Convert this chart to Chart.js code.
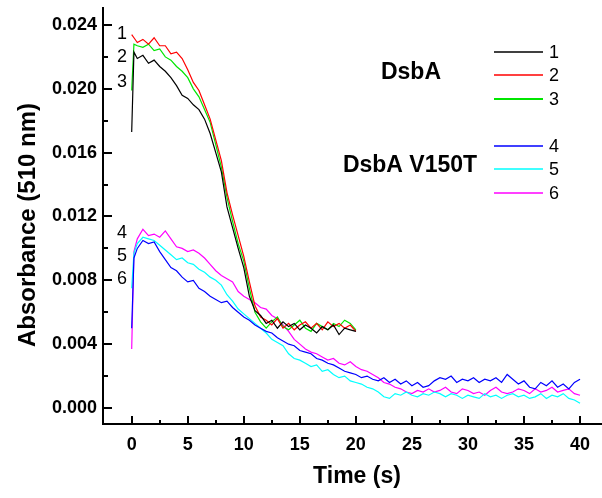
<!DOCTYPE html>
<html lang="en">
<head>
<meta charset="utf-8">
<title>DsbA absorbance at 510 nm</title>
<style>
  body { margin: 0; background: #fff; }
  #wrap { width: 602px; height: 498px; }
</style>
</head>
<body>
<div id="wrap"><canvas id="myChart"></canvas></div>

<script src="https://cdn.jsdelivr.net/npm/chart.js"></script>
<script>
// time points (s)
const timeDsbA = [0,0.2,0.5,1,1.5,2,2.5,3,3.5,4,4.5,5,5.5,6,6.5,7,7.5,8,8.5,9,9.5,10,
  10.5,11,11.5,12,12.5,13,13.5,14,14.5,15,15.5,16,16.5,17,17.5,18,18.5,19,19.5,20];
const timeV150T = [0,0.2,0.5,1,1.5,2,2.5,3,3.5,4,4.5,5,5.5,6,6.5,7,7.5,8,8.5,9,9.5,10,
  10.5,11,11.5,12,12.5,13,13.5,14,14.5,15,15.5,16,16.5,17,17.5,18,18.5,19,19.5,20,
  20.5,21,21.5,22,22.5,23,23.5,24,24.5,25,25.5,26,26.5,27,27.5,28,28.5,29,29.5,30,
  30.5,31,31.5,32,32.5,33,33.5,34,34.5,35,35.5,36,36.5,37,37.5,38,38.5,39,39.5,40];

// DsbA traces (1-3)
const curve1 = [0.0173,0.0223,0.0219,0.0221,0.0216,0.0218,0.0214,0.0211,0.0207,0.0202,0.0196,0.0194,
  0.0190,0.0187,0.0181,0.0172,0.0160,0.0148,0.0126,0.0113,0.0100,0.0088,0.0070,0.0061,0.0058,0.0053,
  0.0055,0.0050,0.0054,0.0051,0.0053,0.0049,0.0052,0.0050,0.0047,0.0051,0.0049,0.0052,0.0046,0.0050,
  0.0049,0.0048];
const curve2 = [0.0234,0.0232,0.0229,0.0231,0.0228,0.0232,0.0227,0.0227,0.0222,0.0223,0.0219,0.0212,
  0.0204,0.0199,0.0190,0.0181,0.0168,0.0155,0.0135,0.0121,0.0108,0.0095,0.0079,0.0064,0.0057,0.0055,
  0.0052,0.0056,0.0050,0.0053,0.0049,0.0052,0.0054,0.0050,0.0053,0.0049,0.0054,0.0051,0.0053,0.0050,
  0.0052,0.0048];
const curve3 = [0.0199,0.0228,0.0227,0.0226,0.0228,0.0224,0.0225,0.0220,0.0218,0.0214,0.0211,0.0207,
  0.0200,0.0195,0.0187,0.0179,0.0165,0.0151,0.0132,0.0117,0.0103,0.0092,0.0075,0.0060,0.0054,0.0050,
  0.0054,0.0057,0.0051,0.0049,0.0052,0.0055,0.0050,0.0048,0.0053,0.0051,0.0049,0.0053,0.0051,0.0055,
  0.0053,0.0049];

// DsbA V150T traces (4-6)
const curve4 = [0.0050,0.0094,0.0100,0.0105,0.0103,0.0104,0.0098,0.0093,0.0088,0.0086,0.0082,0.0079,
  0.0080,0.0075,0.0073,0.0070,0.0068,0.0066,0.0067,0.0063,0.0060,0.0057,0.0055,0.0052,0.0050,0.0048,
  0.0047,0.0044,0.0042,0.0040,0.0039,0.0036,0.0035,0.0034,0.0031,0.0030,0.0028,0.0027,0.0025,0.0023,
  0.0022,0.0021,0.0019,0.0020,0.0018,0.0017,0.0019,0.0016,0.0018,0.0015,0.0017,0.0014,0.0016,0.0013,
  0.0014,0.0017,0.0019,0.0018,0.0020,0.0016,0.0018,0.0017,0.0019,0.0016,0.0018,0.0017,0.0019,0.0016,
  0.0021,0.0018,0.0015,0.0017,0.0013,0.0012,0.0016,0.0014,0.0017,0.0013,0.0015,0.0012,0.0016,0.0018];
const curve5 = [0.0075,0.0097,0.0103,0.0107,0.0106,0.0105,0.0102,0.0099,0.0096,0.0093,0.0094,0.0091,
  0.0090,0.0087,0.0085,0.0082,0.0080,0.0077,0.0071,0.0067,0.0062,0.0059,0.0056,0.0053,0.0050,0.0047,
  0.0043,0.0041,0.0039,0.0034,0.0031,0.0030,0.0028,0.0026,0.0027,0.0023,0.0024,0.0021,0.0019,0.0020,
  0.0017,0.0016,0.0015,0.0013,0.0012,0.0010,0.0007,0.0006,0.0009,0.0008,0.0010,0.0008,0.0007,0.0009,
  0.0008,0.0010,0.0009,0.0007,0.0009,0.0008,0.0006,0.0008,0.0007,0.0006,0.0009,0.0007,0.0008,0.0006,
  0.0008,0.0009,0.0007,0.0008,0.0006,0.0007,0.0009,0.0006,0.0008,0.0007,0.0009,0.0006,0.0005,0.0003];
const curve6 = [0.0037,0.0098,0.0106,0.0112,0.0108,0.0109,0.0107,0.0111,0.0106,0.0101,0.0100,0.0098,
  0.0099,0.0097,0.0094,0.0090,0.0086,0.0083,0.0081,0.0079,0.0073,0.0070,0.0068,0.0066,0.0063,0.0062,
  0.0058,0.0056,0.0052,0.0048,0.0043,0.0040,0.0037,0.0035,0.0034,0.0032,0.0030,0.0031,0.0028,0.0027,
  0.0029,0.0026,0.0024,0.0023,0.0021,0.0019,0.0016,0.0015,0.0013,0.0012,0.0010,0.0009,0.0011,0.0010,
  0.0012,0.0010,0.0011,0.0013,0.0010,0.0009,0.0012,0.0011,0.0009,0.0010,0.0008,0.0011,0.0013,0.0010,
  0.0009,0.0010,0.0012,0.0011,0.0009,0.0012,0.0010,0.0011,0.0013,0.0010,0.0011,0.0012,0.0009,0.0008];

const seriesNames = ['1','2','3','4','5','6'];
const seriesColors = ['#000000','#ff0000','#00e600','#0000ff','#00ffff','#ff00ff'];
const xTicks = [0,5,10,15,20,25,30,35,40];
const xMinor = [2.5,7.5,12.5,17.5,22.5,27.5,32.5,37.5];
const yTicks = [0,0.004,0.008,0.012,0.016,0.020,0.024];
const yMinor = [0.002,0.006,0.010,0.014,0.018,0.022];

function pts(t, v) {
  return t.map((x, i) => ({x: x, y: v[i]}));
}

const curves = [
  pts(timeDsbA, curve1), pts(timeDsbA, curve2), pts(timeDsbA, curve3),
  pts(timeV150T, curve4), pts(timeV150T, curve5), pts(timeV150T, curve6)
];

const FONT = "'Liberation Sans', Arial, sans-serif";

// inner tick marks, titles, labels and hand-placed legend
const decorations = {
  id: 'decorations',
  afterDraw(chart) {
    const c = chart.ctx;
    const xs = chart.scales.x, ys = chart.scales.y;
    const left = chart.chartArea.left, bottom = chart.chartArea.bottom;
    c.save();
    c.fillStyle = '#000000';
    // ticks pointing into the plot
    yTicks.forEach(v => {
      const y = Math.round(ys.getPixelForValue(v));
      c.fillRect(left, y - 1, 9, 2);
    });
    yMinor.forEach(v => {
      const y = Math.round(ys.getPixelForValue(v));
      c.fillRect(left, y - 1, 5, 2);
    });
    xTicks.forEach(v => {
      const x = Math.round(xs.getPixelForValue(v));
      c.fillRect(x - 1, bottom - 8, 2, 8);
    });
    xMinor.forEach(v => {
      const x = Math.round(xs.getPixelForValue(v));
      c.fillRect(x - 1, bottom - 4, 2, 4);
    });

    // axis titles
    c.textAlign = 'center';
    c.textBaseline = 'middle';
    c.font = 'bold 23px ' + FONT;
    c.fillText('Time (s)', 357, 477);
    c.save();
    c.translate(28, 225);
    c.rotate(-Math.PI / 2);
    c.font = 'bold 24px ' + FONT;
    c.fillText('Absorbance (510 nm)', 0, 0);
    c.restore();

    // group labels
    c.font = 'bold 23px ' + FONT;
    c.fillText('DsbA', 411, 73);
    c.fillText('DsbA V150T', 410, 166);

    // curve numbers next to the start of the traces
    c.font = '18px ' + FONT;
    c.textAlign = 'left';
    const startY = [34, 57, 82, 233, 256, 279];
    seriesNames.forEach((n, i) => c.fillText(n, 117, startY[i]));

    // legend
    const legY = [52, 75, 99, 146, 169, 193];
    seriesNames.forEach((n, i) => {
      c.strokeStyle = seriesColors[i];
      c.lineWidth = i === 2 ? 2 : 1.6;
      c.beginPath();
      c.moveTo(494, legY[i]);
      c.lineTo(543, legY[i]);
      c.stroke();
      c.fillText(n, 549, legY[i] + 1);
    });
    c.restore();
  }
};

new Chart(document.getElementById('myChart'), {
  type: 'line',
  data: {
    datasets: curves.map((d, i) => ({
      label: seriesNames[i],
      data: d,
      borderColor: seriesColors[i],
      borderWidth: 1.2,
      pointRadius: 0,
      tension: 0,
      fill: false
    }))
  },
  options: {
    responsive: true,
    maintainAspectRatio: false,
    animation: false,
    layout: { padding: { top: 8, right: 0, left: 0, bottom: 0 } },
    plugins: { legend: { display: false }, tooltip: { enabled: false } },
    scales: {
      x: {
        type: 'linear',
        min: -2.56,
        max: 41.96,
        afterFit: s => { s.height = 74; s.paddingLeft = 0; s.paddingRight = 0; },
        afterBuildTicks: s => { s.ticks = xTicks.map(v => ({value: v})); },
        grid: { display: false, drawTicks: false },
        border: { display: true, color: '#000', width: 2 },
        ticks: {
          color: '#000',
          padding: 10,
          maxRotation: 0,
          font: { family: FONT, size: 18, weight: 'bold' },
          callback: v => String(v)
        }
      },
      y: {
        type: 'linear',
        min: -0.001003,
        max: 0.025065,
        afterFit: s => { s.width = 103; s.paddingTop = 0; s.paddingBottom = 0; },
        afterBuildTicks: s => { s.ticks = yTicks.map(v => ({value: v})); },
        grid: { display: false, drawTicks: false },
        border: { display: true, color: '#000', width: 2 },
        ticks: {
          color: '#000',
          padding: 6,
          font: { family: FONT, size: 18, weight: 'bold' },
          callback: v => v.toFixed(3)
        }
      }
    }
  },
  plugins: [decorations]
});
</script>
</body>
</html>
